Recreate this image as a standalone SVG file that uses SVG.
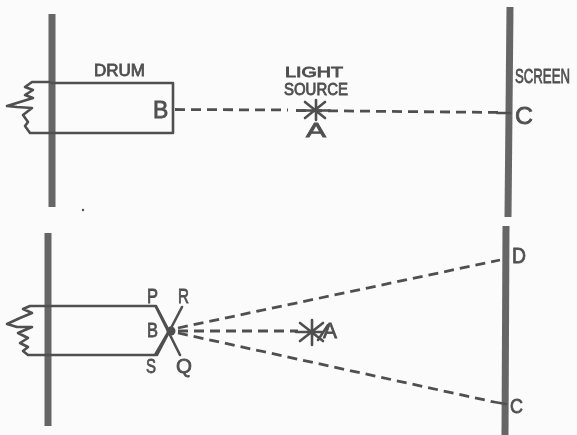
<svg xmlns="http://www.w3.org/2000/svg" width="577" height="435" viewBox="0 0 577 435">
<style>
.wall{fill:none;stroke:#666;stroke-width:7}
.ln{fill:none;stroke:#505050;stroke-width:2.6;stroke-linejoin:round;stroke-linecap:round}
.dash{fill:none;stroke:#505050;stroke-width:2.8;stroke-dasharray:10 6}
.t{font-family:"Liberation Sans",Arial,sans-serif;fill:#505050;stroke:#505050;stroke-width:.8}
</style>
<defs><filter id="soft" x="-2%" y="-2%" width="104%" height="104%"><feGaussianBlur stdDeviation="0.45"/></filter></defs>
<rect width="577" height="435" fill="#fbfbfb"/>
<g filter="url(#soft)">
<g id="connectors">
<path class="dash" d="M175 109.500L288 110M296 110.500L502 112.500"/>
<path class="dash" d="M178 328L500 260"/>
<path class="dash" d="M178 331L298 331"/>
<path class="dash" d="M178 333L494 402"/>
</g>
<g id="wall-top-left"><path class="wall" d="M52 14V207"/></g>
<g id="screen-top"><path class="wall" d="M510 7L508 217"/></g>
<g id="wall-bottom-left"><path class="wall" d="M48 233V426"/></g>
<g id="screen-bottom"><path class="wall" d="M506 226L505 435"/></g>
<g id="drum-top">
<path class="ln" d="M50 82L32 82L25 87L33 90L25 95L33 98L7 106L17 107L32 108L23 115L28 122L25 126L30 133H173V83H52"/>
<text class="t" x="94" y="76" font-size="17" textLength="51" lengthAdjust="spacingAndGlyphs">DRUM</text>
<text class="t" x="153" y="118" font-size="23">B</text>
</g>
<g id="light-source">
<path class="ln" d="M301 110.500H330M305 102L325 118M325 102L305 118M316 100V120"/>
<text class="t" x="285" y="77" font-size="14" textLength="58" lengthAdjust="spacingAndGlyphs">LIGHT</text>
<text class="t" x="284" y="95" font-size="16" textLength="64" lengthAdjust="spacingAndGlyphs">SOURCE</text>
<text class="t" x="306" y="137" font-size="21" textLength="20" lengthAdjust="spacingAndGlyphs">A</text>
</g>
<g id="label-screen"><text class="t" transform="translate(515 83) scale(.66 1)" font-size="20">SCREEN</text></g>
<g id="point-c-top">
<path class="ln" d="M497 113H510"/>
<text class="t" x="515" y="124" font-size="24" textLength="18" lengthAdjust="spacingAndGlyphs">C</text>
</g>
<g id="drum-bottom">
<path class="ln" d="M47 306L30 306L23 309L32 313L20 318L7 324L17 327L32 327L18 333L28 338L20 343L28 347L23 351L28 355H155L169 331L156 306H47"/>
<path class="ln" d="M182 307L157 355M156 307L180 355"/>
<circle cx="171" cy="331" r="4.500" fill="#505050"/>
<text class="t" x="147" y="303" font-size="21" textLength="11" lengthAdjust="spacingAndGlyphs">P</text>
<text class="t" x="178" y="303" font-size="21" textLength="11" lengthAdjust="spacingAndGlyphs">R</text>
<text class="t" x="147" y="337" font-size="21" textLength="11" lengthAdjust="spacingAndGlyphs">B</text>
<text class="t" x="146" y="373" font-size="21" textLength="10" lengthAdjust="spacingAndGlyphs">S</text>
<text class="t" x="176" y="373" font-size="21" textLength="16" lengthAdjust="spacingAndGlyphs">Q</text>
</g>
<g id="light-source-bottom">
<path class="ln" d="M296 332H323M300 323L323 341M323 323L300 341M312 320V345M318 340L328 325"/>
<text class="t" x="323" y="338" font-size="22" textLength="14" lengthAdjust="spacingAndGlyphs">A</text>
</g>
<g id="point-d"><text class="t" x="512" y="263" font-size="22" textLength="14" lengthAdjust="spacingAndGlyphs">D</text></g>
<g id="point-c-bottom">
<path class="ln" d="M494 402L506 404"/>
<text class="t" x="510" y="413" font-size="21" textLength="13" lengthAdjust="spacingAndGlyphs">C</text>
</g>
<circle cx="83" cy="210" r="1.200" fill="#505050"/>
</g>
</svg>
